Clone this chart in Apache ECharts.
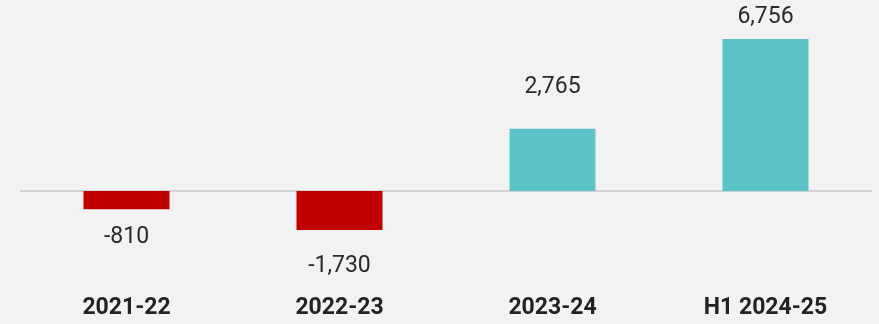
<!DOCTYPE html>
<html>
<head>
<meta charset="utf-8">
<script src="https://cdn.jsdelivr.net/npm/echarts@6/dist/echarts.min.js"></script>
<style>
  html, body { margin: 0; padding: 0; background: #f2f2f2; }
  #chart { width: 879px; height: 324px; }
</style>
</head>
<body>
<div id="chart"></div>
<script>
// Annual values by period
const periods = ['2021-22', '2022-23', '2023-24', 'H1 2024-25'];
const values = [-810, -1730, 2765, 6756];
// Gap between each bar end and its value label
const labelGaps = [17, 25, 30, 10];

const NEG = '#c00000';
const POS = '#5bc4c9';

const fmt = v => v.toLocaleString('en-US');

const barData = values.map((v, i) => ({
  value: v,
  itemStyle: { color: v < 0 ? NEG : POS },
  label: {
    position: v < 0 ? 'bottom' : 'top',
    distance: labelGaps[i]
  }
}));

const chart = echarts.init(document.getElementById('chart'));
chart.setOption({
  backgroundColor: '#f2f2f2',
  animation: false,
  grid: { left: 20, right: 7, top: 11, bottom: 43, containLabel: false },
  xAxis: {
    type: 'category',
    data: periods,
    position: 'bottom',
    axisLine: { show: false },
    axisTick: { show: false },
    axisLabel: {
      margin: 16,
      fontFamily: 'Roboto',
      fontWeight: 'bold',
      fontSize: 23,
      color: '#222222'
    }
  },
  yAxis: {
    type: 'value',
    min: -4000,
    max: 8000,
    show: false,
    splitLine: { show: false }
  },
  series: [{
    type: 'bar',
    data: barData,
    barWidth: 86,
    label: {
      show: true,
      fontFamily: 'Roboto',
      fontSize: 23,
      color: '#2a2a2a',
      formatter: p => fmt(p.value)
    },
    markLine: {
      silent: true,
      symbol: 'none',
      label: { show: false },
      lineStyle: { color: '#d2d2d2', width: 2, type: 'solid' },
      z: 1,
      data: [{ yAxis: 0 }]
    }
  }]
});
</script>
</body>
</html>
